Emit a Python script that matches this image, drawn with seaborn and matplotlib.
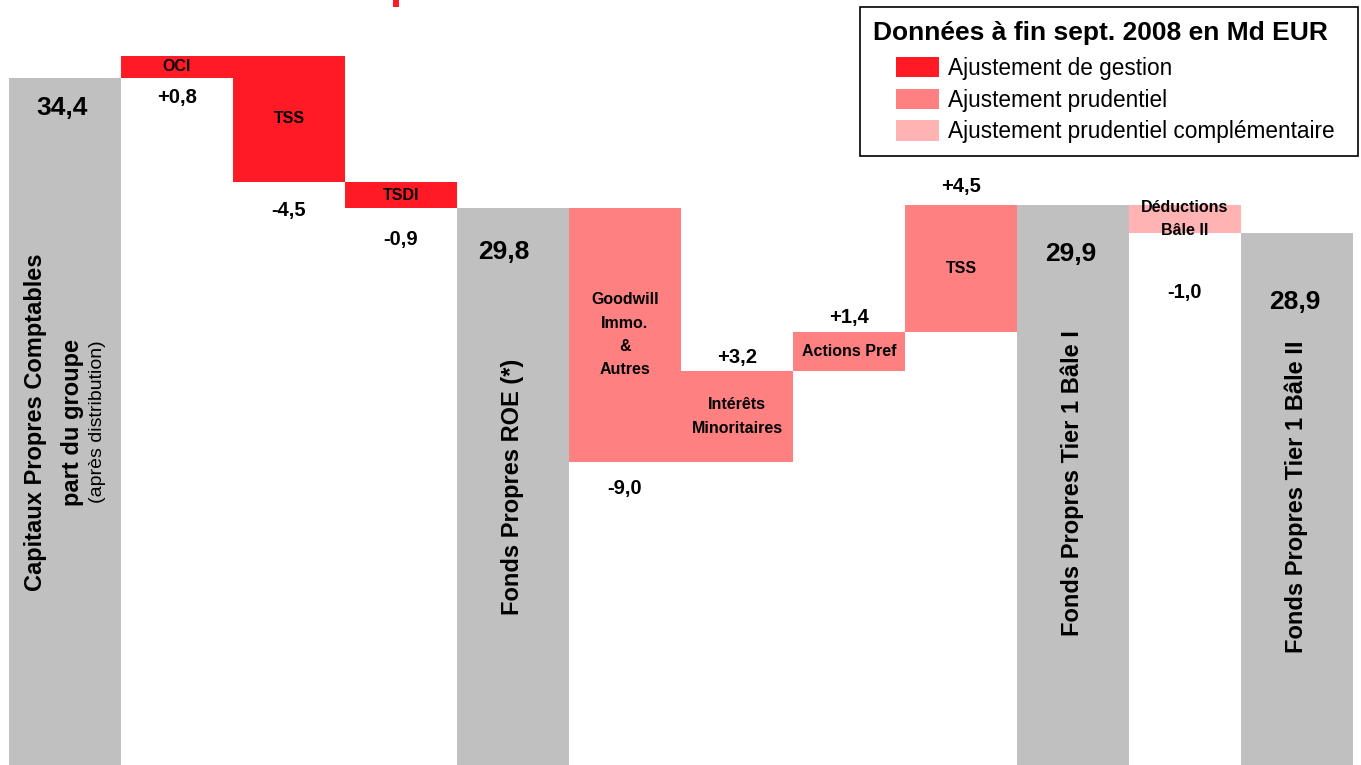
import matplotlib
matplotlib.use('Agg')
import numpy as np
import pandas as pd
import matplotlib.pyplot as plt
import seaborn as sns
from matplotlib.patches import Patch, Rectangle

# ---- data (Md EUR, fin sept. 2008) ----
steps = ['cp', 'oci', 'tss_g', 'tsdi', 'roe', 'goodwill', 'minor', 'pref', 'tss_p', 'tier1_b1', 'deduc', 'tier1_b2']
kinds = ['total', 'gestion', 'gestion', 'gestion', 'total', 'prudentiel', 'prudentiel',
         'prudentiel', 'prudentiel', 'total', 'complementaire', 'total']
values = [34.4, 0.8, -4.5, -0.9, 29.8, -9.0, 3.2, 1.4, 4.5, 29.9, -1.0, 28.9]
inner_labels = ['', 'OCI', 'TSS', 'TSDI', '', 'Goodwill\nImmo.\n&\nAutres', 'Intérêts\nMinoritaires',
                'Actions Pref', 'TSS', '', 'Déductions\nBâle II', '']
total_labels = {0: 'Capitaux Propres Comptables', 4: 'Fonds Propres ROE (*)',
                9: 'Fonds Propres Tier 1 Bâle I', 11: 'Fonds Propres Tier 1 Bâle II'}
legend_labels = ['Ajustement de gestion', 'Ajustement prudentiel', 'Ajustement prudentiel complémentaire']
legend_title = 'Données à fin sept. 2008 en Md EUR'

colors = {'total': '#C0C0C0', 'gestion': '#FF1A25', 'prudentiel': '#FF8080', 'complementaire': '#FFB3B3'}

# bas / haut de chaque barre du waterfall
low, high = [], []
running = 0.0
for k, v in zip(kinds, values):
    if k == 'total':
        running = v
        low.append(0.0)
        high.append(v)
    else:
        start, running = running, running + v
        low.append(min(start, running))
        high.append(max(start, running))

df = pd.DataFrame({'step': steps, 'kind': kinds, 'low': low, 'high': high})

# ---- figure ----
sns.set_style('white')
plt.rcParams['font.family'] = ['Liberation Sans', 'DejaVu Sans']
plt.rcParams['text.color'] = 'black'

W, H = 1361, 765
fig = plt.figure(figsize=(W / 100, H / 100), dpi=100)
ax = fig.add_axes([9 / W, 0, 1344 / W, 1])

sns.barplot(data=df, x='step', y='high', hue='kind', palette=colors, order=steps,
            dodge=False, width=1.0, saturation=1, legend=False, linewidth=0, ax=ax)

# barres flottantes : on repositionne chaque rectangle entre bas et haut
for p in ax.patches:
    i = int(round(p.get_x() + p.get_width() / 2))
    p.set_y(low[i])
    p.set_height(high[i] - low[i])

ax.set_xlim(-0.5, len(steps) - 0.5)
ax.set_ylim(10.04, 37.17)
ax.axis('off')

px = 72 / 100  # pixels -> points

# libellés dans les barres d'ajustement
for i, lab in enumerate(inner_labels):
    if lab:
        ax.text(i, (low[i] + high[i]) / 2, lab, ha='center', va='center', color='black',
                fontsize=11.5, fontweight='bold', linespacing=1.7)

# variations (+0,8 / -4,5 ...) : décalage en pixels depuis le bord de la barre
delta_offset = {1: ('low', -19), 2: ('low', -28), 3: ('low', -32), 5: ('low', -27),
                6: ('high', 14), 7: ('high', 14), 8: ('high', 18), 10: ('low', -59)}
for i, (edge, dy) in delta_offset.items():
    y0 = low[i] if edge == 'low' else high[i]
    txt = f'{values[i]:+.1f}'.replace('.', ',')
    ax.annotate(txt, (i, y0), xytext=(0, dy * px), textcoords='offset points', color='black',
                ha='center', va='center', fontsize=14.5, fontweight='bold')

# totaux (34,4 / 29,8 ...)
total_offset = {0: (-3, -30), 4: (-9, -44), 9: (-2, -49), 11: (-2, -69)}
for i, (dx, dy) in total_offset.items():
    txt = f'{values[i]:.1f}'.replace('.', ',')
    ax.annotate(txt, (i, high[i]), xytext=(dx * px, dy * px), textcoords='offset points',
                color='black', ha='center', va='center', fontsize=19, fontweight='bold')

# libellés verticaux des barres grises
xt = ax.get_xaxis_transform()
ax.text(0 - 29 / 112, 1 - 422 / H, total_labels[0], transform=xt, rotation=90, color='black',
        ha='center', va='center', fontsize=17, fontweight='bold')
ax.text(0 + 8 / 112, 1 - 422 / H, 'part du groupe', transform=xt, rotation=90, color='black',
        ha='center', va='center', fontsize=17, fontweight='bold')
ax.text(0 + 33 / 112, 1 - 422 / H, '(après distribution)', transform=xt, rotation=90,
        color='black', ha='center', va='center', fontsize=14)
for i, yc in [(4, 487), (9, 483), (11, 497)]:
    ax.text(i - 1 / 112, 1 - yc / H, total_labels[i], transform=xt, rotation=90, color='black',
            ha='center', va='center', fontsize=17, fontweight='bold')

# ---- légende encadrée ----
fig.patches.append(Rectangle((860 / W, 1 - 156 / H), 498 / W, 149 / H, transform=fig.transFigure,
                             facecolor='white', edgecolor='black', linewidth=1.2, zorder=5))
fig.text(873 / W, 1 - 33 / H, legend_title, ha='left', va='center', color='black',
         fontsize=19, fontweight='bold', zorder=6)
handles = [Patch(facecolor=colors[k], edgecolor='none') for k in ['gestion', 'prudentiel', 'complementaire']]
leg = fig.legend(handles=handles, labels=legend_labels, loc='upper left',
                 bbox_to_anchor=(896 / W, 1 - 57 / H), frameon=False, borderpad=0,
                 borderaxespad=0, fontsize=16.3, handlelength=1.9, handleheight=1.0,
                 handletextpad=0.4, labelspacing=0.38, labelcolor='black')
leg.set_zorder(6)

# morceau rouge du titre coupé en haut
fig.patches.append(Rectangle((393 / W, 1 - 7 / H), 6 / W, 7 / H, transform=fig.transFigure,
                             facecolor='#FF1A25', edgecolor='none'))

plt.savefig('out.png', dpi=100)
